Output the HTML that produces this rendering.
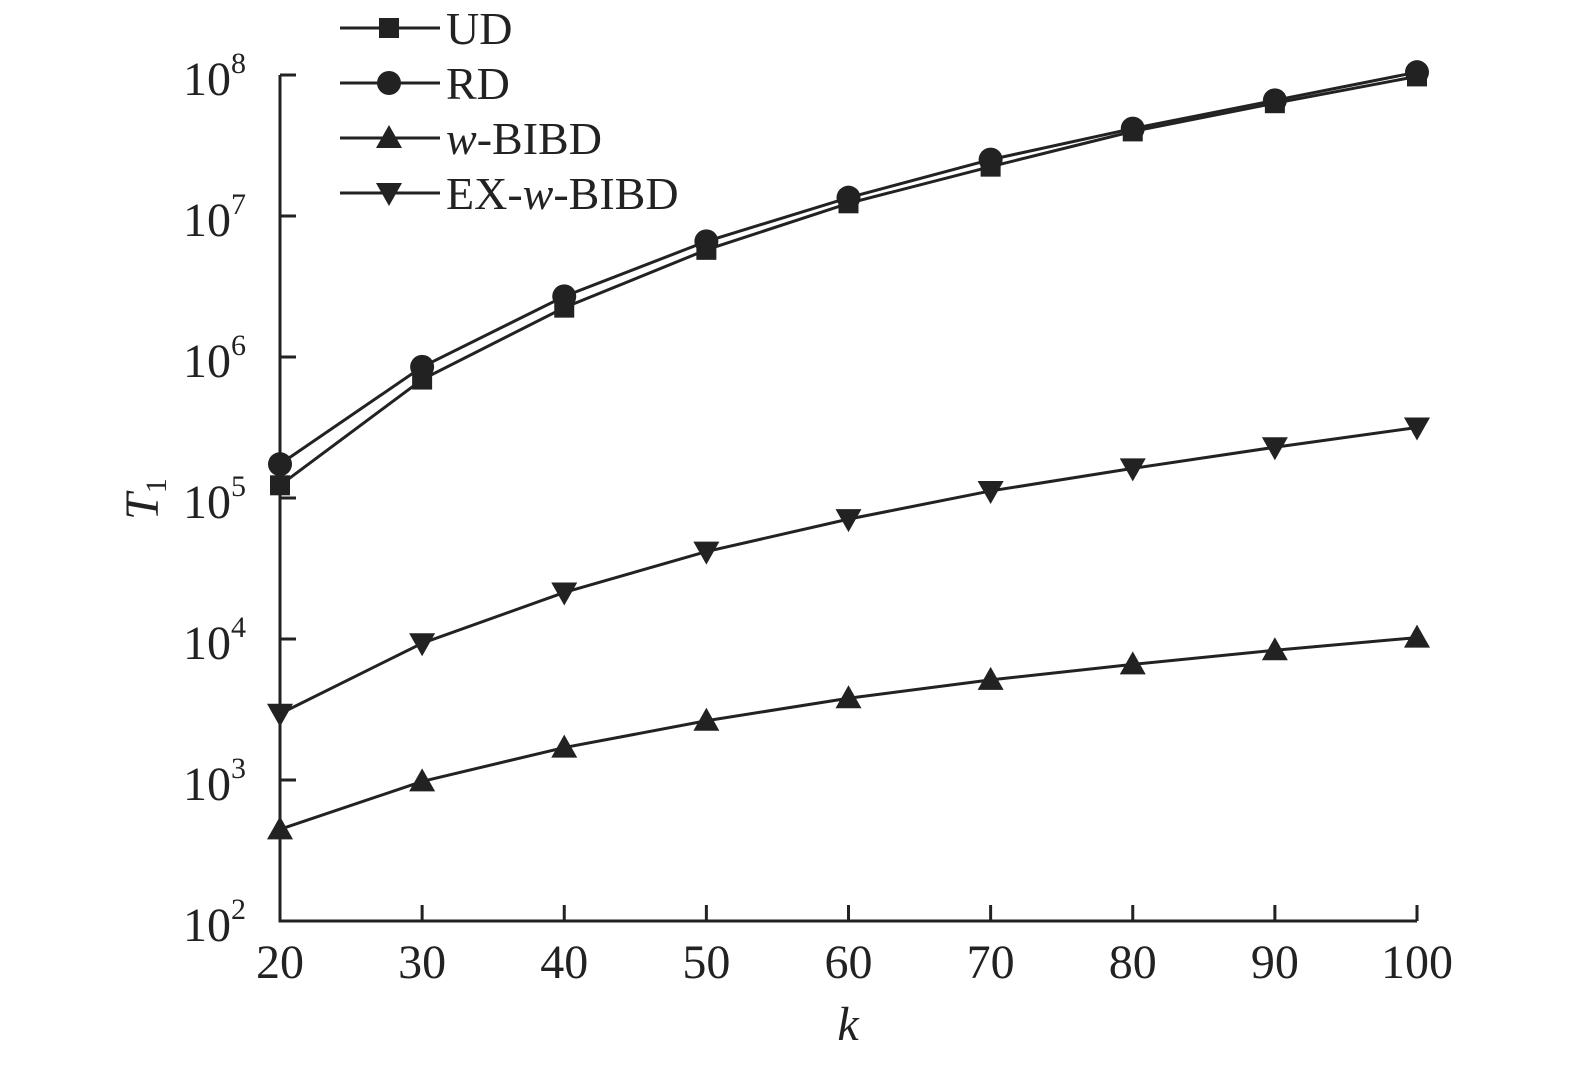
<!DOCTYPE html>
<html><head><meta charset="utf-8"><style>
body{margin:0;background:#fff}
svg{display:block;font-family:"Liberation Serif",serif}
</style></head><body>
<svg id="chart" width="1575" height="1067" viewBox="0 0 1575 1067" xmlns="http://www.w3.org/2000/svg"></svg>
<script>
const ks=[20,30,40,50,60,70,80,90,100];
const udLog=[5.09,5.84,6.35,6.76,7.09,7.35,7.60,7.80,7.99];
const rdLog=[5.24,5.93,6.43,6.82,7.13,7.40,7.62,7.82,8.02];
const wbLog=[2.65,2.99,3.23,3.42,3.58,3.71,3.82,3.92,4.01];
const exLog=[3.47,3.97,4.33,4.62,4.85,5.05,5.21,5.36,5.50];
const xTicks=[20,30,40,50,60,70,80,90,100];
const yTicks=[2,3,4,5,6,7,8];
const NS="http://www.w3.org/2000/svg";
const svg=document.getElementById('chart');
const X0=280,X1=1417,Y0=921,Y1=75;
const xs=k=>X0+(k-20)/80*(X1-X0);
const ys=l=>Y0-(l-2)/6*(Y0-Y1);
function mk(t,a,p){const e=document.createElementNS(NS,t);for(const k in a)e.setAttribute(k,a[k]);(p||svg).appendChild(e);return e;}
let e;
e=mk('path',{d:`M${X0} ${Y1}V${Y0}H${X1}`,fill:'none',stroke:'#222','stroke-width':3});


xTicks.forEach(k=>{
 e=mk('line',{x1:xs(k),x2:xs(k),y1:Y0,y2:Y0-16,stroke:'#222','stroke-width':3});
 
 
 e=mk('text',{x:xs(k),y:978,'font-size':48,'text-anchor':'middle',fill:'#222'});e.textContent=k;
 
 
});
yTicks.forEach(l=>{
 e=mk('line',{x1:X0,x2:X0+16,y1:ys(l),y2:ys(l),stroke:'#222','stroke-width':3});
 
 
 e=mk('text',{x:183,y:ys(l)+20,'font-size':48,fill:'#222'});
 
 
 e.appendChild(document.createTextNode('10'));
 const s=mk('tspan',{dy:-22,'font-size':30},e);s.textContent=l;
});
e=mk('text',{x:848,y:1040,'font-size':48,'font-style':'italic','text-anchor':'middle',fill:'#222'});e.textContent='k';


e=mk('text',{x:0,y:0,'font-size':48,fill:'#222',transform:'translate(158,520) rotate(-90)'});


const t1=mk('tspan',{'font-style':'italic'},e);t1.textContent='T';
const t2=mk('tspan',{'font-size':30,dy:8},e);t2.textContent='1';
function marker(type,x,y,g){
 let m;
 if(type==='sq')m=mk('rect',{x:x-10,y:y-10,width:20,height:20,fill:'#222'},g);
 else if(type==='ci')m=mk('circle',{cx:x,cy:y,r:12,fill:'#222'},g);
 else if(type==='up')m=mk('polygon',{points:`${x},${y-13} ${x+13},${y+10} ${x-13},${y+10}`,fill:'#222'},g);
 else m=mk('polygon',{points:`${x},${y+13} ${x+13},${y-10} ${x-13},${y-10}`,fill:'#222'},g);
 return m;
}
const series=[['ud',udLog,'sq'],['rd',rdLog,'ci'],['w-bibd',wbLog,'up'],['ex-w-bibd',exLog,'dn']];
series.forEach(([n,v,t])=>{
 const g=mk('g',{});
 
 
 const l=mk('polyline',{points:v.map((y,i)=>xs(ks[i])+','+ys(y)).join(' '),fill:'none',stroke:'#222','stroke-width':3},g);
 
 
 v.forEach((y,i)=>{const m=marker(t,xs(ks[i]),ys(y),g);
  
  });
});
const leg=[['UD','sq',28],['RD','ci',83],['w','up',138],['EX','dn',193]];
const lg=mk('g',{});


leg.forEach(([lab,t,y])=>{
 const g=mk('g',{},lg);
 
 
 mk('line',{x1:340,x2:440,y1:y,y2:y,stroke:'#222','stroke-width':3},g);
 marker(t,389,y,g);
 const tx=mk('text',{x:446,y:y+16,'font-size':46,fill:'#222'},g);
 if(lab==='w'){const a=mk('tspan',{'font-style':'italic'},tx);a.textContent='w';tx.appendChild(document.createTextNode('-BIBD'));}
 else if(lab==='EX'){tx.appendChild(document.createTextNode('EX-'));const a=mk('tspan',{'font-style':'italic'},tx);a.textContent='w';tx.appendChild(document.createTextNode('-BIBD'));}
 else tx.textContent=lab;
});
</script>
</body></html>
